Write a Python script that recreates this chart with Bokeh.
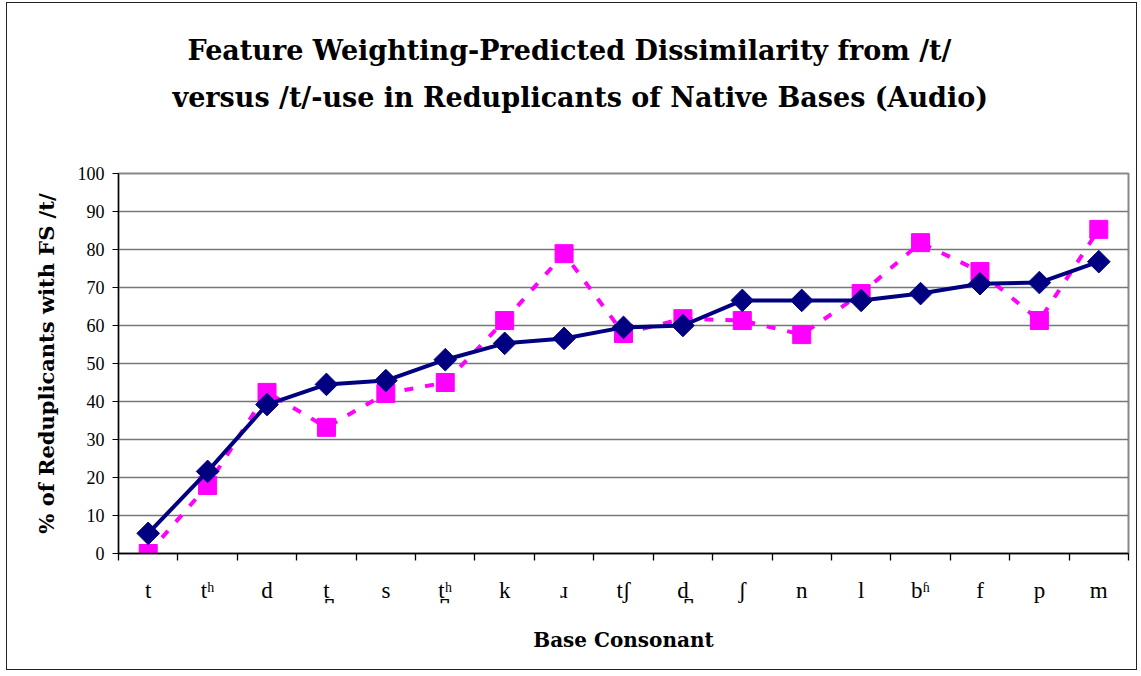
import math
from bokeh.plotting import figure
from bokeh.models import FixedTicker, Range1d, Title
from bokeh.embed import file_html
from bokeh.resources import INLINE

categories = ["t", "tʰ", "d", "t̪", "s", "t̪ʰ", "k", "ɹ", "tʃ", "d̪", "ʃ", "n", "l", "bʱ", "f", "p", "m"]
predicted = [5.3, 21.6, 39.2, 44.5, 45.5, 51.0, 55.3, 56.6, 59.5, 60.0, 66.6, 66.6, 66.6, 68.4, 71.0, 71.3, 76.8]
observed = [0.0, 17.9, 42.4, 33.2, 42.1, 45.0, 61.3, 78.9, 57.9, 61.8, 61.3, 57.6, 68.4, 81.8, 74.2, 61.3, 85.3]
y_ticks = [0, 10, 20, 30, 40, 50, 60, 70, 80, 90, 100]
title_line1 = "Feature Weighting-Predicted Dissimilarity from /t/"
title_line2 = "versus /t/-use in Reduplicants of Native Bases (Audio)"

n = len(categories)
xs = [i + 0.5 for i in range(n)]

SERIF = "Liberation Serif"
BOLD = "DejaVu Serif"

p = figure(width=1131, height=668, output_backend="svg", toolbar_location=None,
           x_range=Range1d(0, n), y_range=Range1d(0, 100),
           min_border_left=111, min_border_right=10, min_border_top=170, min_border_bottom=118)

p.title = None
# spacer between the frame and the title block
p.add_layout(Title(text=" ", text_font_size="1px", standoff=50), "above")
p.add_layout(Title(text=title_line2, align="left", offset=54,
                   text_font=BOLD, text_font_size="27px", text_font_style="bold",
                   text_color="black", standoff=15), "above")
p.add_layout(Title(text=title_line1, align="left", offset=69,
                   text_font=BOLD, text_font_size="27px", text_font_style="bold",
                   text_color="black", standoff=13), "above")

p.outline_line_color = "#888888"
p.outline_line_width = 2
p.background_fill_color = "white"
p.border_fill_color = "white"
p.styles = {"border": "1.5px solid #222222", "margin": "2px 0px 0px 6px"}

# grid
p.xgrid.visible = False
p.ygrid.ticker = FixedTicker(ticks=y_ticks)
p.ygrid.grid_line_color = "#777777"
p.ygrid.grid_line_width = 1.3

# y axis
p.yaxis.ticker = FixedTicker(ticks=y_ticks)
p.yaxis.axis_line_color = "black"
p.yaxis.axis_line_width = 1.3
p.yaxis.major_tick_out = 6
p.yaxis.major_tick_in = 0
p.yaxis.minor_tick_line_color = None
p.yaxis.major_label_text_font = SERIF
p.yaxis.major_label_text_font_size = "18px"
p.yaxis.major_label_text_color = "black"
p.yaxis.major_label_standoff = 8
p.yaxis.axis_label = "% of Reduplicants with FS /t/"
p.yaxis.axis_label_text_font = BOLD
p.yaxis.axis_label_text_font_size = "21px"
p.yaxis.axis_label_text_font_style = "bold"
p.yaxis.axis_label_text_color = "black"
p.yaxis.axis_label_standoff = 16

# x axis: labels at centers, ticks at boundaries
p.xaxis.ticker = FixedTicker(ticks=xs, minor_ticks=list(range(n + 1)))
p.xaxis.major_label_overrides = {x: c for x, c in zip(xs, categories)}
p.xaxis.major_tick_line_color = None
p.xaxis.minor_tick_line_color = "black"
p.xaxis.minor_tick_line_width = 1.3
p.xaxis.minor_tick_out = 7
p.xaxis.minor_tick_in = 0
p.xaxis.axis_line_color = "black"
p.xaxis.axis_line_width = 1.3
p.xaxis.major_label_text_font = SERIF
p.xaxis.major_label_text_font_size = "23px"
p.xaxis.major_label_text_color = "black"
p.xaxis.major_label_standoff = 17
p.xaxis.axis_label = "Base Consonant"
p.xaxis.axis_label_text_font = BOLD
p.xaxis.axis_label_text_font_size = "20px"
p.xaxis.axis_label_text_font_style = "bold"
p.xaxis.axis_label_text_color = "black"
p.xaxis.axis_label_standoff = 22

# observed (magenta dashed, squares)
p.line(xs, observed, line_color="#FF00FF", line_width=4, line_dash="9 12")
p.scatter(xs, observed, marker="square", size=18, fill_color="#FF00FF", line_color="#FF00FF")

# predicted (navy solid, diamonds)
p.line(xs, predicted, line_color="#000080", line_width=4)
p.scatter(xs, predicted, marker="square", angle=math.pi / 4, size=16,
          fill_color="#000080", line_color="#000080")

open("out.html", "w").write(file_html(p, INLINE))
